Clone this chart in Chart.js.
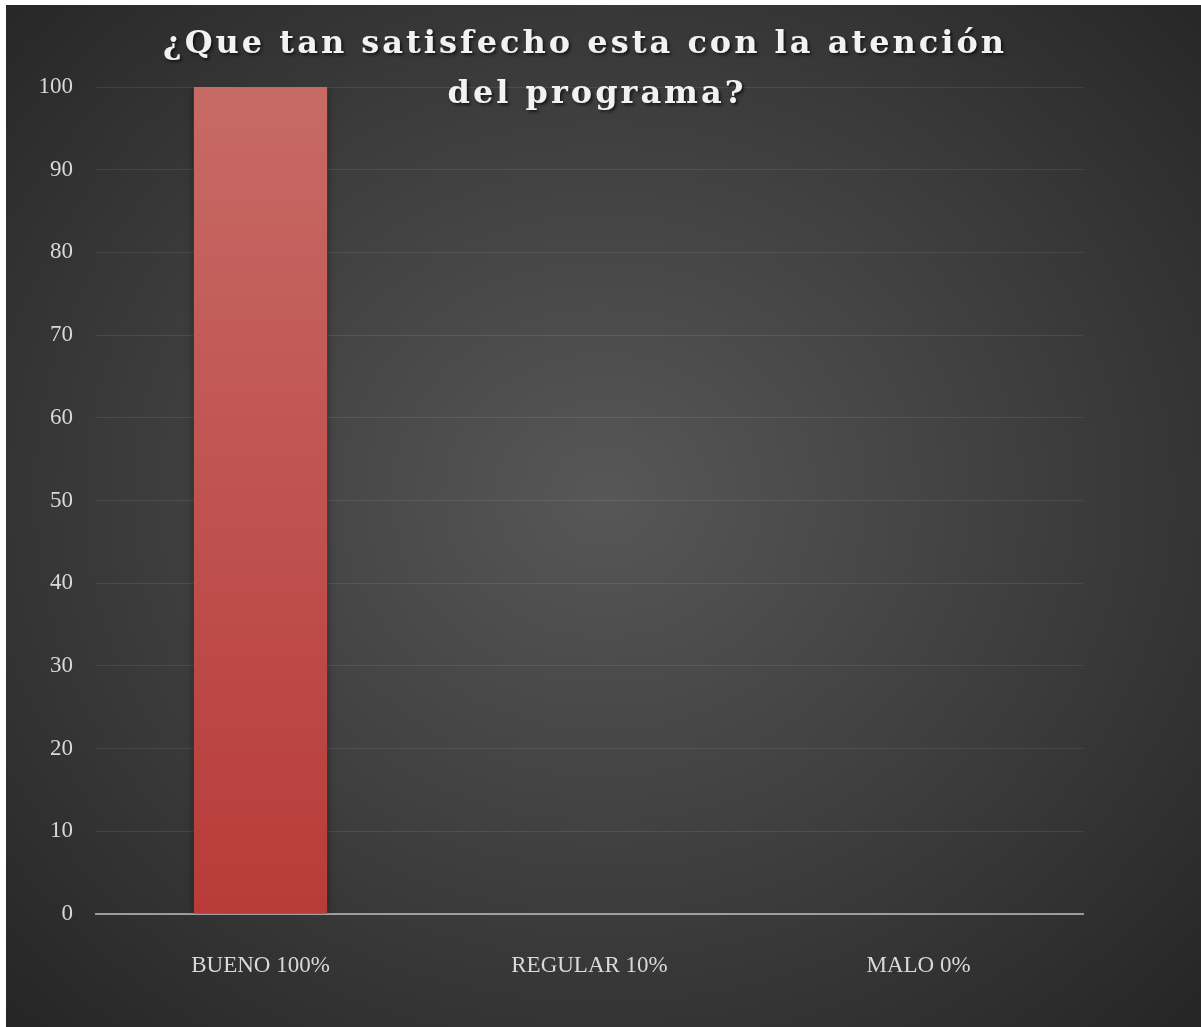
<!DOCTYPE html>
<html>
<head>
<meta charset="utf-8">
<script src="https://cdn.jsdelivr.net/npm/chart.js@4/dist/chart.umd.min.js"></script>
<style>
  html, body { margin: 0; padding: 0; background: #fff; }
  #wrap {
    position: absolute; left: 6px; top: 5px;
    width: 1195px; height: 1022px;
    background: radial-gradient(ellipse farthest-corner at 50% 48%, #575757 0%, #3c3c3c 55%, #252525 100%);
  }
</style>
</head>
<body>
<div id="wrap"><canvas id="Chart"></canvas></div>
<script>
const categories = ['BUENO 100%', 'REGULAR 10%', 'MALO 0%'];
const values = [100, 0, 0];
const yMin = 0;
const yMax = 100;
const yStep = 10;
const titleLines = ['¿Que tan satisfecho esta con la atención', 'del programa?'];

document.addEventListener('DOMContentLoaded', function () {
  const ctx = document.getElementById('Chart');
  const serif = "'Liberation Serif', 'DejaVu Serif', serif";
  const titleFont = "'DejaVu Serif', 'Liberation Serif', serif";

  // bar gradient, light at top, darker red at the base
  function barFill(c) {
    const chart = c.chart;
    const area = chart.chartArea;
    if (!area) return '#c0504d';
    const g = chart.ctx.createLinearGradient(0, area.top, 0, area.bottom);
    g.addColorStop(0, '#c76a66');
    g.addColorStop(1, '#b83b39');
    return g;
  }

  const barShadow = {
    id: 'barShadow',
    beforeDatasetsDraw(chart) {
      const c = chart.ctx;
      c.save();
      c.shadowColor = 'rgba(0,0,0,0.45)';
      c.shadowBlur = 9;
    },
    afterDatasetsDraw(chart) {
      chart.ctx.restore();
    }
  };

  // overlay title like the office chart (does not take layout room)
  const overlayTitle = {
    id: 'overlayTitle',
    afterDraw(chart) {
      const c = chart.ctx;
      c.save();
      c.font = "bold 32px " + titleFont;
      c.fillStyle = '#f2f2f2';
      c.textAlign = 'center';
      c.textBaseline = 'alphabetic';
      const w0 = c.measureText(titleLines[0]).width;
      const spacing = Math.max(0, (844 - w0) / titleLines[0].length);
      c.letterSpacing = spacing.toFixed(2) + 'px';
      c.shadowColor = 'rgba(0,0,0,0.6)';
      c.shadowOffsetX = 2;
      c.shadowOffsetY = 2;
      c.shadowBlur = 3;
      c.fillText(titleLines[0], 579, 48);
      c.fillText(titleLines[1], 591, 98);
      c.restore();
    }
  };

  new Chart(ctx, {
    type: 'bar',
    data: {
      labels: categories,
      datasets: [{
        label: 'Satisfacción',
        data: values,
        backgroundColor: barFill,
        borderWidth: 0,
        categoryPercentage: 1,
        barPercentage: 0.405
      }]
    },
    options: {
      responsive: true,
      maintainAspectRatio: false,
      animation: false,
      layout: { padding: { top: 82, right: 118, bottom: 0, left: 0 } },
      plugins: {
        legend: { display: false },
        title: { display: false },
        tooltip: { enabled: false }
      },
      scales: {
        x: {
          z: 1,
          grid: { display: false, drawTicks: false },
          border: { display: true, color: 'rgba(200,200,200,0.7)', width: 2 },
          ticks: {
            color: '#d9d9d9',
            font: { family: serif, size: 23 },
            padding: 38
          },
          afterFit(scale) { scale.height = 113; }
        },
        y: {
          min: yMin,
          max: yMax,
          ticks: {
            stepSize: yStep,
            color: '#d9d9d9',
            font: { family: serif, size: 23 },
            padding: 23
          },
          grid: { color: 'rgba(255,255,255,0.09)', lineWidth: 1, drawTicks: false },
          border: { display: false },
          afterFit(scale) { scale.width = 90; }
        }
      }
    },
    plugins: [barShadow, overlayTitle]
  });
});
</script>
</body>
</html>
